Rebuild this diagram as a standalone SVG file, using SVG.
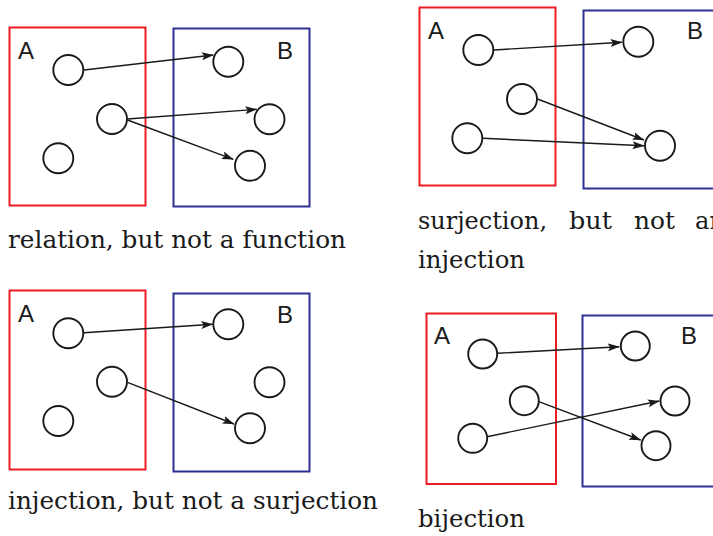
<svg xmlns="http://www.w3.org/2000/svg" width="713" height="536" viewBox="0 0 713 536">
<style>
.setA{fill:none;stroke:#ec1c24;stroke-width:2}
.setB{fill:none;stroke:#2e3192;stroke-width:2}
.el{fill:none;stroke:#1a1a1a;stroke-width:1.9}
.lbl{font-family:"Liberation Sans",Arial,sans-serif;font-size:24px;fill:#1a1a1a}
.cap{font-family:"DejaVu Serif",serif;font-size:25px;fill:#1a1a1a}
.arr{stroke:#1a1a1a;stroke-width:1.4;fill:none;marker-end:url(#ah)}
</style>
<defs>
<marker id="ah" markerUnits="userSpaceOnUse" markerWidth="12" markerHeight="9" viewBox="0 0 12 9" refX="11.5" refY="4.5" orient="auto">
<path d="M0,0.5 L12,4.5 L0,8.5 L2.5,4.5 Z" fill="#1a1a1a"/>
</marker>
</defs>
<rect width="713" height="536" fill="#fff"/>

<!-- Panel 1: relation -->
<g id="p1-A"><rect class="setA" x="9.5" y="27.5" width="136" height="178"/><text class="lbl" x="18" y="59">A</text></g>
<g id="p1-B"><rect class="setB" x="173.5" y="28.5" width="136" height="178"/><text class="lbl" x="277" y="59">B</text></g>
<g id="p1-a1"><circle class="el" cx="68.3" cy="70" r="15"/></g>
<g id="p1-a2"><circle class="el" cx="112" cy="119" r="15"/></g>
<g id="p1-a3"><circle class="el" cx="58.3" cy="158.3" r="15"/></g>
<g id="p1-b1"><circle class="el" cx="228.3" cy="61.7" r="15"/></g>
<g id="p1-b2"><circle class="el" cx="269.5" cy="119.3" r="15"/></g>
<g id="p1-b3"><circle class="el" cx="250" cy="165.7" r="15"/></g>

<!-- Panel 2: surjection -->
<g id="p2-A"><rect class="setA" x="419.5" y="7.5" width="136" height="178"/><text class="lbl" x="428" y="39">A</text></g>
<g id="p2-B"><rect class="setB" x="583.5" y="10.5" width="136" height="178"/><text class="lbl" x="687" y="39">B</text></g>
<g id="p2-a1"><circle class="el" cx="478.3" cy="50" r="15"/></g>
<g id="p2-a2"><circle class="el" cx="522" cy="99" r="15"/></g>
<g id="p2-a3"><circle class="el" cx="467.3" cy="138.3" r="15"/></g>
<g id="p2-b1"><circle class="el" cx="638.3" cy="41.7" r="15"/></g>
<g id="p2-b3"><circle class="el" cx="660" cy="145.7" r="15"/></g>

<!-- Panel 3: injection -->
<g id="p3-A"><rect class="setA" x="9.5" y="290.5" width="136" height="179"/><text class="lbl" x="18" y="322">A</text></g>
<g id="p3-B"><rect class="setB" x="173.5" y="293.5" width="136" height="178"/><text class="lbl" x="277" y="323">B</text></g>
<g id="p3-a1"><circle class="el" cx="68.3" cy="333.3" r="15"/></g>
<g id="p3-a2"><circle class="el" cx="112" cy="381.7" r="15"/></g>
<g id="p3-a3"><circle class="el" cx="58.3" cy="421" r="15"/></g>
<g id="p3-b1"><circle class="el" cx="228.3" cy="324.3" r="15"/></g>
<g id="p3-b2"><circle class="el" cx="269.5" cy="382.3" r="15"/></g>
<g id="p3-b3"><circle class="el" cx="250" cy="428.3" r="15"/></g>

<!-- Panel 4: bijection -->
<g id="p4-A"><rect class="setA" x="426.5" y="313.5" width="129.5" height="170.5"/><text class="lbl" x="434" y="343.5">A</text></g>
<g id="p4-B"><rect class="setB" x="582.5" y="315.5" width="136" height="171"/><text class="lbl" x="681" y="344">B</text></g>
<g id="p4-a1"><circle class="el" cx="482.7" cy="354" r="14.5"/></g>
<g id="p4-a2"><circle class="el" cx="524.3" cy="400.7" r="14.5"/></g>
<g id="p4-a3"><circle class="el" cx="472.7" cy="438.3" r="14.5"/></g>
<g id="p4-b1"><circle class="el" cx="635.3" cy="346" r="14.5"/></g>
<g id="p4-b2"><circle class="el" cx="675" cy="401" r="14.5"/></g>
<g id="p4-b3"><circle class="el" cx="656" cy="445.7" r="14.5"/></g>

<g id="connectors">
<line class="arr" x1="84" y1="70" x2="213.3" y2="55"/>
<line class="arr" x1="127.5" y1="119" x2="256.7" y2="109.3"/>
<line class="arr" x1="127.5" y1="120" x2="233.3" y2="159.3"/>

<line class="arr" x1="494" y1="50" x2="622" y2="42.3"/>
<line class="arr" x1="537.5" y1="99" x2="644" y2="140"/>
<line class="arr" x1="483" y1="138.3" x2="644" y2="145.7"/>

<line class="arr" x1="84" y1="332.7" x2="212.7" y2="324.3"/>
<line class="arr" x1="127.5" y1="382.3" x2="234" y2="424"/>

<line class="arr" x1="497.5" y1="353.3" x2="619.3" y2="346.7"/>
<line class="arr" x1="538.8" y1="401.7" x2="640.7" y2="440"/>
<line class="arr" x1="487" y1="436.7" x2="659.3" y2="401"/>
</g>

<g id="captions">
<text class="cap" x="8" y="248" textLength="338" lengthAdjust="spacingAndGlyphs">relation, but not a function</text>
<text class="cap" x="418" y="229" textLength="129" lengthAdjust="spacingAndGlyphs">surjection,</text>
<text class="cap" x="569" y="229" textLength="43" lengthAdjust="spacingAndGlyphs">but</text>
<text class="cap" x="634" y="229" textLength="41" lengthAdjust="spacingAndGlyphs">not</text>
<text class="cap" x="695" y="229" textLength="30" lengthAdjust="spacingAndGlyphs">an</text>
<text class="cap" x="418" y="268" textLength="107" lengthAdjust="spacingAndGlyphs">injection</text>
<text class="cap" x="8" y="509" textLength="370" lengthAdjust="spacingAndGlyphs">injection, but not a surjection</text>
<text class="cap" x="418" y="527" textLength="107" lengthAdjust="spacingAndGlyphs">bijection</text>
</g>
</svg>
